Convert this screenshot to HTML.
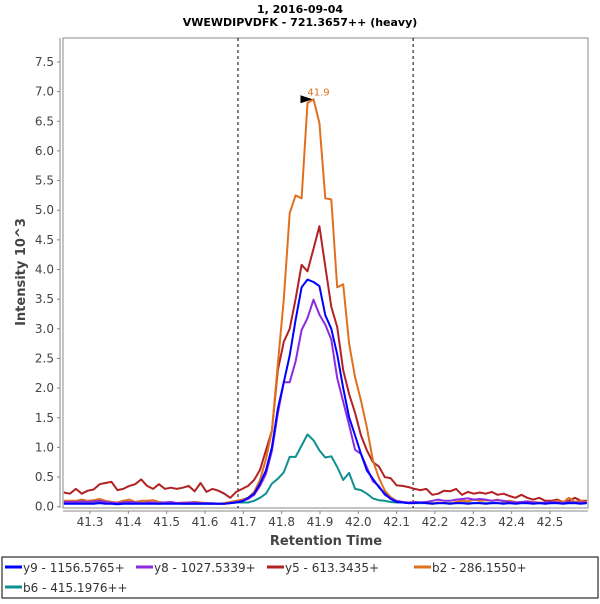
<!DOCTYPE html>
<html><head><meta charset="utf-8"><style>
body{margin:0;background:#fff;width:600px;height:600px;overflow:hidden;font-family:"DejaVu Sans",sans-serif}
svg text{font-family:"DejaVu Sans","Liberation Sans",sans-serif}
</style></head><body>
<svg id="chart" width="600" height="600">
<text x="300" y="13" text-anchor="middle" font-size="11" font-weight="bold" fill="#000">1, 2016-09-04</text>
<text x="300" y="26" text-anchor="middle" font-size="11" font-weight="bold" fill="#000">VWEWDIPVDFK - 721.3657++ (heavy)</text>
<g id="frame"></g>
<g id="series"></g>
<text x="326" y="545" text-anchor="middle" font-size="13" font-weight="bold" fill="#444">Retention Time</text>
<text transform="translate(25,272) rotate(-90)" text-anchor="middle" font-size="13" font-weight="bold" fill="#444">Intensity 10^3</text>
<rect x="2" y="557" width="596" height="41" fill="none" stroke="#000" stroke-width="1"/>
<g id="legend"></g>
</svg>
<script>
const times=[41.2320,41.2475,41.2630,41.2785,41.2940,41.3095,41.3250,41.3405,41.3560,41.3715,41.3870,41.4025,41.4180,41.4335,41.4490,41.4645,41.4800,41.4955,41.5110,41.5265,41.5420,41.5575,41.5730,41.5885,41.6040,41.6195,41.6350,41.6505,41.6660,41.6815,41.6970,41.7125,41.7280,41.7435,41.7590,41.7745,41.7900,41.8055,41.8210,41.8365,41.8520,41.8675,41.8830,41.8985,41.9140,41.9295,41.9450,41.9605,41.9760,41.9915,42.0070,42.0225,42.0380,42.0535,42.0690,42.0845,42.1000,42.1155,42.1310,42.1465,42.1620,42.1775,42.1930,42.2085,42.2240,42.2395,42.2550,42.2705,42.2860,42.3015,42.3170,42.3325,42.3480,42.3635,42.3790,42.3945,42.4100,42.4255,42.4410,42.4565,42.4720,42.4875,42.5030,42.5185,42.5340,42.5495,42.5650,42.5805,42.5960];
const y9=[0.05,0.05,0.05,0.05,0.05,0.05,0.06,0.05,0.05,0.04,0.05,0.05,0.05,0.05,0.05,0.05,0.05,0.05,0.05,0.05,0.05,0.05,0.05,0.05,0.05,0.05,0.05,0.05,0.06,0.07,0.09,0.15,0.22,0.39,0.61,1.0,1.65,2.1,2.55,3.15,3.7,3.83,3.79,3.72,3.23,3.0,2.57,2.0,1.51,1.2,0.89,0.61,0.47,0.33,0.22,0.13,0.08,0.07,0.06,0.06,0.07,0.06,0.05,0.06,0.06,0.05,0.06,0.06,0.05,0.06,0.06,0.05,0.06,0.06,0.05,0.06,0.05,0.06,0.06,0.05,0.06,0.05,0.06,0.06,0.05,0.06,0.06,0.05,0.06];
const y8=[0.08,0.08,0.08,0.09,0.08,0.09,0.1,0.08,0.07,0.06,0.07,0.08,0.07,0.06,0.07,0.07,0.06,0.07,0.08,0.06,0.06,0.07,0.07,0.06,0.06,0.06,0.05,0.05,0.06,0.08,0.1,0.13,0.2,0.35,0.55,0.94,1.57,2.1,2.1,2.45,2.98,3.18,3.49,3.24,3.07,2.82,2.17,1.77,1.38,0.96,0.89,0.66,0.43,0.35,0.2,0.14,0.1,0.08,0.07,0.08,0.07,0.08,0.1,0.12,0.1,0.1,0.12,0.13,0.14,0.12,0.13,0.12,0.1,0.11,0.1,0.08,0.07,0.08,0.09,0.07,0.06,0.07,0.08,0.07,0.06,0.08,0.07,0.07,0.07];
const y5=[0.24,0.22,0.3,0.22,0.27,0.29,0.38,0.4,0.42,0.28,0.3,0.35,0.38,0.46,0.35,0.3,0.38,0.3,0.32,0.3,0.32,0.35,0.26,0.4,0.25,0.3,0.27,0.22,0.15,0.25,0.3,0.35,0.45,0.62,0.95,1.28,2.3,2.78,3.0,3.5,4.08,3.97,4.35,4.73,4.05,3.37,3.03,2.3,1.9,1.58,1.2,0.95,0.75,0.68,0.5,0.48,0.36,0.35,0.33,0.3,0.28,0.3,0.2,0.22,0.27,0.26,0.3,0.2,0.25,0.22,0.24,0.22,0.25,0.2,0.22,0.18,0.15,0.2,0.15,0.12,0.15,0.1,0.1,0.12,0.08,0.1,0.15,0.1,0.1];
const b2=[0.1,0.1,0.1,0.12,0.1,0.11,0.13,0.1,0.08,0.07,0.1,0.12,0.08,0.1,0.1,0.11,0.08,0.07,0.08,0.06,0.07,0.07,0.08,0.07,0.06,0.05,0.05,0.06,0.08,0.1,0.12,0.15,0.25,0.45,0.8,1.28,2.4,3.5,4.95,5.25,5.2,6.81,6.87,6.47,5.2,5.18,3.7,3.75,2.75,2.18,1.79,1.33,0.78,0.49,0.27,0.16,0.1,0.08,0.06,0.08,0.07,0.06,0.05,0.07,0.06,0.05,0.08,0.1,0.09,0.12,0.1,0.11,0.1,0.12,0.09,0.1,0.08,0.07,0.09,0.08,0.07,0.06,0.08,0.1,0.07,0.15,0.08,0.1,0.08];
const b6=[0.06,0.06,0.06,0.07,0.06,0.07,0.08,0.07,0.07,0.06,0.1,0.08,0.07,0.07,0.06,0.06,0.05,0.06,0.06,0.06,0.05,0.05,0.05,0.05,0.05,0.05,0.05,0.05,0.06,0.07,0.07,0.07,0.1,0.15,0.22,0.39,0.47,0.58,0.84,0.84,1.03,1.22,1.12,0.95,0.83,0.85,0.67,0.45,0.57,0.3,0.28,0.22,0.14,0.11,0.1,0.08,0.07,0.07,0.06,0.06,0.06,0.06,0.06,0.06,0.06,0.06,0.06,0.06,0.06,0.06,0.06,0.06,0.06,0.06,0.06,0.06,0.06,0.06,0.06,0.06,0.06,0.06,0.06,0.06,0.06,0.06,0.06,0.06,0.06];
const yTicks=["0.0","0.5","1.0","1.5","2.0","2.5","3.0","3.5","4.0","4.5","5.0","5.5","6.0","6.5","7.0","7.5"];
const xTicks=["41.3","41.4","41.5","41.6","41.7","41.8","41.9","42.0","42.1","42.2","42.3","42.4","42.5"];
const boundaries=[41.686,42.143];
const peakTime=41.883, peakValue=6.87, peakLabel="41.9";
const seriesNames=["y9 - 1156.5765+","y8 - 1027.5339+","y5 - 613.3435+","b2 - 286.1550+","b6 - 415.1976++"];
const seriesColors=["#0000ff","#8a2be2","#b22222","#e07020","#108f8f"];

const NS="http://www.w3.org/2000/svg";
const X=t=>90+(t-41.3)*383.3;
const Y=v=>506.7-v*59.3;
function mk(tag,attrs,parent){const e=document.createElementNS(NS,tag);for(const k in attrs)e.setAttribute(k,attrs[k]);parent.appendChild(e);return e;}
const frame=document.getElementById('frame');
let r=mk('rect',{x:63,y:38,width:525,height:470,fill:'#fff',stroke:'#888','stroke-width':1},frame);


let ya=mk('line',{x1:60,y1:38,x2:60,y2:508,stroke:'#888'},frame);


let xa=mk('line',{x1:63,y1:511,x2:588,y2:511,stroke:'#888'},frame);


yTicks.forEach(s=>{const v=parseFloat(s),y=Y(v);
 let tk=mk('line',{x1:57,y1:y,x2:60,y2:y,stroke:'#888'},frame);
 
 
 let t=mk('text',{x:54,y:y+4,'text-anchor':'end','font-size':12,fill:'#444'},frame);t.textContent=s;
 
 
});
xTicks.forEach(s=>{const x=X(parseFloat(s));
 let tk=mk('line',{x1:x,y1:511,x2:x,y2:514,stroke:'#888'},frame);
 
 
 let t=mk('text',{x:x,y:526,'text-anchor':'middle','font-size':12,fill:'#444'},frame);t.textContent=s;
 
 
});
boundaries.forEach(b=>{let l=mk('line',{x1:X(b),y1:38,x2:X(b),y2:508,stroke:'#000','stroke-dasharray':'3,3'},frame);
 
 
});
const sg=document.getElementById('series');
const allSeries=[y9,y8,y5,b2,b6];
const drawOrder=[4,2,3,1,0];
drawOrder.forEach(i=>{const d=allSeries[i].map((v,k)=>(k?'L':'M')+X(times[k]).toFixed(1)+','+Y(v).toFixed(1)).join('');
 let p=mk('path',{d:d,fill:'none',stroke:seriesColors[i],'stroke-width':2,'stroke-linejoin':'round'},sg);
 
 
});
const px=X(peakTime),py=Y(peakValue);
let ar=mk('polygon',{points:`${px-13},${py-4} ${px-1},${py} ${px-13},${py+4}`,fill:'#000'},sg);


let pl=mk('text',{x:px+5,y:py-4,'font-size':10,fill:'#e07020','text-anchor':'middle'},sg);pl.textContent=peakLabel;


const lg=document.getElementById('legend');
const legPos=[[5,567],[136,567],[267,567],[414,567],[5,587]];
seriesNames.forEach((n,i)=>{const [x,y]=legPos[i];
 let g=mk('g',{},lg);
 
 
 mk('line',{x1:x,y1:y,x2:x+17,y2:y,stroke:seriesColors[i],'stroke-width':3},g);
 let t=mk('text',{x:x+18,y:y+5,'font-size':12,fill:'#333'},g);t.textContent=n;
});
</script>
</body></html>
